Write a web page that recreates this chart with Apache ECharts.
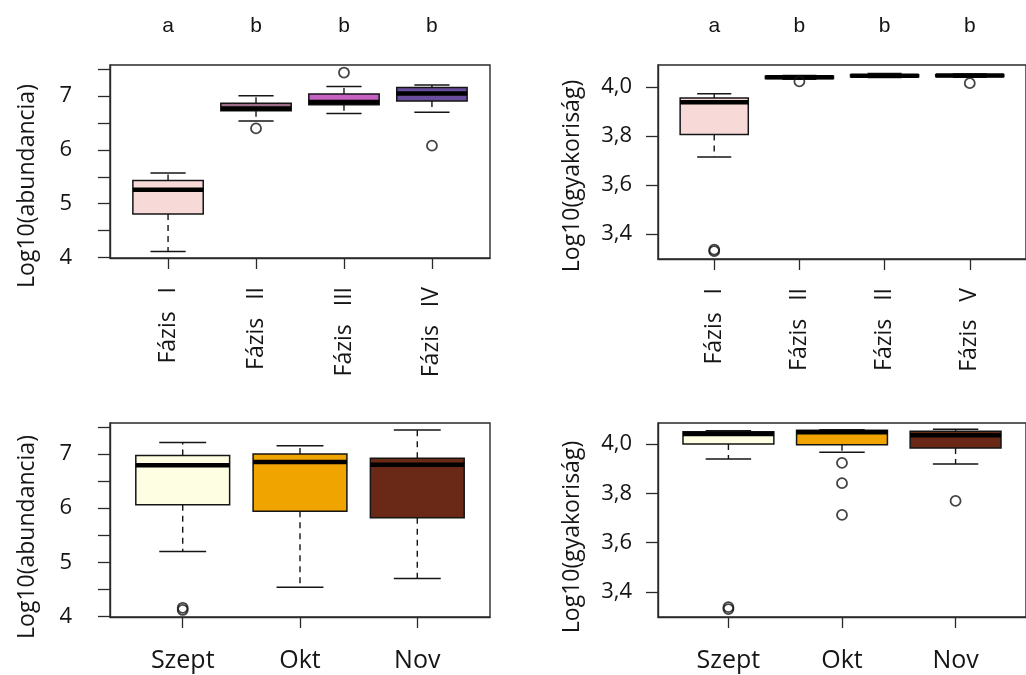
<!DOCTYPE html>
<html>
<head>
<meta charset="utf-8">
<script src="https://cdn.jsdelivr.net/npm/echarts@6/dist/echarts.min.js"></script>
<style>
  html, body { margin: 0; padding: 0; background: #ffffff; }
  #chart { width: 1026px; height: 675px; }
</style>
</head>
<body>
<div id="chart"></div>
<script>
// Category labels
const phaseLabelsAbund = ['Fázis   I', 'Fázis   II', 'Fázis   III', 'Fázis   IV'];
const phaseLabelsFreq = ['Fázis   I', 'Fázis   II', 'Fázis   II', 'Fázis   V'];
const monthLabels = ['Szept', 'Okt', 'Nov'];
const phaseLetters = ['a', 'b', 'b', 'b'];

// Box statistics per group: [lower whisker, Q1, median, Q3, upper whisker]
const abundPhaseStats = [
  [4.11, 4.81, 5.26, 5.43, 5.57],
  [6.54, 6.73, 6.77, 6.87, 7.01],
  [6.68, 6.84, 6.89, 7.04, 7.18],
  [6.70, 6.91, 7.05, 7.16, 7.21]
];
const freqPhaseStats = [
  [3.714, 3.806, 3.938, 3.955, 3.973],
  [4.032, 4.035, 4.040, 4.044, 4.047],
  [4.039, 4.042, 4.046, 4.050, 4.055],
  [4.040, 4.043, 4.047, 4.050, 4.053]
];
const abundMonthStats = [
  [5.20, 6.06, 6.79, 6.97, 7.21],
  [4.54, 5.94, 6.85, 7.00, 7.15],
  [4.70, 5.82, 6.80, 6.92, 7.44]
];
const freqMonthStats = [
  [3.939, 4.000, 4.040, 4.050, 4.054],
  [3.966, 3.997, 4.047, 4.056, 4.058],
  [3.919, 3.984, 4.035, 4.052, 4.060]
];

// Outliers: [group number, value]
const abundPhaseOutliers = [[2, 6.40], [3, 7.44], [4, 6.08]];
const freqPhaseOutliers = [[1, 3.330], [1, 3.336], [2, 4.023], [4, 4.016]];
const abundMonthOutliers = [[1, 4.12], [1, 4.16]];
const freqMonthOutliers = [[1, 3.330], [1, 3.338], [2, 3.923], [2, 3.841], [2, 3.712], [3, 3.769]];

// Tick values
const abundTicks = [4, 4.5, 5, 5.5, 6, 6.5, 7, 7.5];
const abundTickLabels = [4, 5, 6, 7];
const freqTicks = [3.4, 3.6, 3.8, 4.0];

// Fill colours
const phaseColors = ['#f7dad8', '#9c6b86', '#c561c0', '#6a4e9e'];
const monthColors = ['#fefee2', '#f0a400', '#6a2816'];

const INK = '#151515';
const FONT = '"Open Sans", "DejaVu Sans", sans-serif';

// Panels: grid rectangles and axis ranges
const panels = [
  { left: 110, top: 65, width: 380, height: 193, ymin: 3.99, ymax: 7.58, xmin: 0.34, xmax: 4.66,
    stats: abundPhaseStats, outliers: abundPhaseOutliers, colors: phaseColors,
    labels: phaseLabelsAbund, rotate: 90, letters: phaseLetters, ticks: abundTicks, tickLabels: abundTickLabels, freq: false },
  { left: 658, top: 65, width: 380, height: 194, ymin: 3.298, ymax: 4.09, xmin: 0.34, xmax: 4.66,
    stats: freqPhaseStats, outliers: freqPhaseOutliers, colors: phaseColors,
    labels: phaseLabelsFreq, rotate: 90, letters: phaseLetters, ticks: freqTicks, tickLabels: freqTicks, freq: true },
  { left: 110, top: 423, width: 380, height: 194, ymin: 3.99, ymax: 7.57, xmin: 0.38, xmax: 3.62,
    stats: abundMonthStats, outliers: abundMonthOutliers, colors: monthColors,
    labels: monthLabels, rotate: 0, letters: null, ticks: abundTicks, tickLabels: abundTickLabels, freq: false },
  { left: 658, top: 423, width: 380, height: 194, ymin: 3.298, ymax: 4.085, xmin: 0.38, xmax: 3.62,
    stats: freqMonthStats, outliers: freqMonthOutliers, colors: monthColors,
    labels: monthLabels, rotate: 0, letters: null, ticks: freqTicks, tickLabels: freqTicks, freq: true }
];

function boxRenderer(colors) {
  return function (params, api) {
    const x = api.value(0);
    const lo = api.coord([x, api.value(1)]);
    const q1 = api.coord([x, api.value(2)]);
    const med = api.coord([x, api.value(3)]);
    const q3 = api.coord([x, api.value(4)]);
    const hi = api.coord([x, api.value(5)]);
    const w = api.size([0.8, 0])[0];
    const half = w / 2;
    const cap = w / 4;
    const cx = med[0];
    const whisker = { stroke: INK, lineWidth: 1.4, lineDash: [6, 5], fill: null };
    const solid = { stroke: INK, lineWidth: 1.5, fill: null };
    return {
      type: 'group',
      children: [
        { type: 'line', shape: { x1: cx, y1: q1[1], x2: cx, y2: lo[1] }, style: whisker },
        { type: 'line', shape: { x1: cx, y1: q3[1], x2: cx, y2: hi[1] }, style: whisker },
        { type: 'line', shape: { x1: cx - cap, y1: lo[1], x2: cx + cap, y2: lo[1] }, style: solid },
        { type: 'line', shape: { x1: cx - cap, y1: hi[1], x2: cx + cap, y2: hi[1] }, style: solid },
        { type: 'rect', shape: { x: cx - half, y: q3[1], width: w, height: q1[1] - q3[1] },
          style: { fill: colors[params.dataIndex], stroke: INK, lineWidth: 1.5 } },
        { type: 'line', shape: { x1: cx - half, y1: med[1], x2: cx + half, y2: med[1] },
          style: { stroke: '#000', lineWidth: 4.5 } }
      ]
    };
  };
}

const grid = [], xAxis = [], yAxis = [], series = [], graphic = [];

panels.forEach(function (p, i) {
  grid.push({ left: p.left, top: p.top, width: p.width, height: p.height,
    show: true, borderColor: '#2a2a2a', borderWidth: 1.4, backgroundColor: '#fff' });

  const groupIdx = p.labels.map(function (_, k) { return k + 1; });

  xAxis.push({
    type: 'value', gridIndex: i, min: p.xmin, max: p.xmax, position: 'bottom',
    splitLine: { show: false },
    axisLine: { show: true, lineStyle: { color: '#2a2a2a', width: 1.4 } },
    axisTick: { show: true, customValues: groupIdx, length: 11, lineStyle: { color: '#2a2a2a', width: 1.3 } },
    axisLabel: {
      customValues: groupIdx, rotate: p.rotate, margin: p.rotate ? 29 : 31,
      fontFamily: FONT, fontSize: p.rotate ? 23 : 25, color: INK,
      formatter: function (v) { return p.labels[Math.round(v) - 1]; }
    }
  });

  if (p.letters) {
    xAxis.push({
      type: 'value', gridIndex: i, min: p.xmin, max: p.xmax, position: 'top',
      splitLine: { show: false }, axisLine: { show: false }, axisTick: { show: false },
      axisLabel: {
        customValues: groupIdx, margin: 28,
        fontFamily: '"Liberation Sans", Arial, sans-serif', fontSize: 21, color: INK,
        formatter: function (v) { return p.letters[Math.round(v) - 1]; }
      }
    });
  }

  yAxis.push({
    type: 'value', gridIndex: i, min: p.ymin, max: p.ymax,
    splitLine: { show: false },
    axisLine: { show: true, lineStyle: { color: '#2a2a2a', width: 1.4 } },
    axisTick: { show: true, customValues: p.ticks, length: 12, lineStyle: { color: '#2a2a2a', width: 1.3 } },
    axisLabel: {
      customValues: p.tickLabels, margin: p.freq ? 26 : 38,
      fontFamily: FONT, fontSize: 22, color: INK,
      formatter: function (v) { return p.freq ? v.toFixed(1).replace('.', ',') : String(Math.round(v)); }
    }
  });
});

// Bottom x axis index of each panel
const xIndexOf = [];
let xi = 0;
panels.forEach(function (p, i) { xIndexOf[i] = xi; xi += p.letters ? 2 : 1; });

panels.forEach(function (p, i) {
  series.push({
    type: 'custom', xAxisIndex: xIndexOf[i], yAxisIndex: i,
    renderItem: boxRenderer(p.colors),
    encode: { x: 0, y: [1, 2, 3, 4, 5] },
    data: p.stats.map(function (s, k) { return [k + 1].concat(s); }),
    clip: false, silent: true
  });
  series.push({
    type: 'scatter', xAxisIndex: xIndexOf[i], yAxisIndex: i,
    symbol: 'circle', symbolSize: 10,
    itemStyle: { color: 'rgba(0,0,0,0)', borderColor: INK, borderWidth: 1.8 },
    data: p.outliers, silent: true
  });
});

// Y-axis titles
const yTitles = [
  { text: 'Log10(abundancia)', x: 27, y: 186 },
  { text: 'Log10(gyakoriság)', x: 572, y: 176 },
  { text: 'Log10(abundancia)', x: 27, y: 537 },
  { text: 'Log10(gyakoriság)', x: 572, y: 537 }
];
yTitles.forEach(function (t) {
  graphic.push({
    type: 'text', x: t.x, y: t.y, rotation: Math.PI / 2, silent: true,
    style: { text: t.text, font: '23px ' + FONT, fill: INK,
      align: 'center', verticalAlign: 'middle', textAlign: 'center', textVerticalAlign: 'middle' }
  });
});

const chart = echarts.init(document.getElementById('chart'), null, { renderer: 'canvas' });
chart.setOption({
  backgroundColor: '#ffffff',
  animation: false,
  grid: grid, xAxis: xAxis, yAxis: yAxis, series: series, graphic: graphic
});
</script>
</body>
</html>
